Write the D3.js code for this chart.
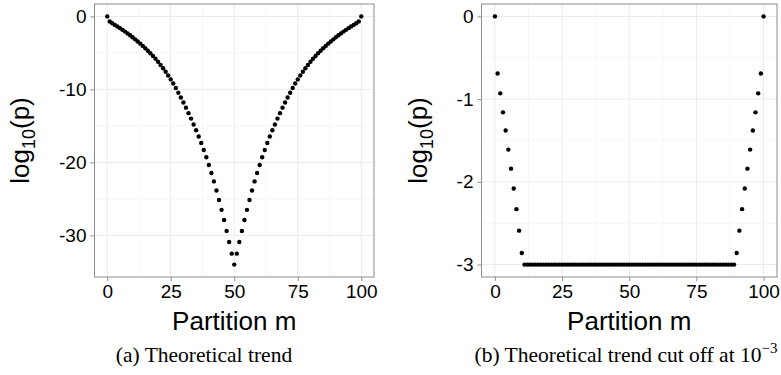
<!DOCTYPE html>
<html>
<head>
<meta charset="utf-8">
<script src="https://cdn.jsdelivr.net/npm/d3@7/dist/d3.min.js"></script>
<style>
  body { margin: 0; background: #fff; }
  svg text { font-family: "Liberation Sans", Arial, sans-serif; fill: #000; }
  svg text.caption { font-family: "Liberation Serif", "Times New Roman", serif; }
</style>
</head>
<body>
<script>
// x is the partition index m (0..100), values are log10(p)
var xTicks = [0, 25, 50, 75, 100];
var xMinor = [12.5, 37.5, 62.5, 87.5];

var trendTicks = [0, -10, -20, -30];
var trendMinor = [-5, -15, -25];
var trendValues = [
  0, -0.69, -0.93, -1.16, -1.38, -1.61, -1.84, -2.08, -2.33, -2.59,
  -2.86, -3.14, -3.43, -3.73, -4.04, -4.36, -4.70, -5.05, -5.42, -5.81,
  -6.22, -6.65, -7.10, -7.58, -8.09, -8.63, -9.20, -9.81, -10.46, -11.10,
  -11.80, -12.50, -13.25, -14.00, -14.80, -15.60, -16.45, -17.35, -18.30, -19.30,
  -20.35, -21.45, -22.60, -23.85, -25.15, -26.50, -27.90, -29.40, -30.90, -32.50,
  -34.00,
  -32.50, -30.90, -29.40, -27.90, -26.50, -25.15, -23.85, -22.60, -21.45, -20.35,
  -19.30, -18.30, -17.35, -16.45, -15.60, -14.80, -14.00, -13.25, -12.50, -11.80,
  -11.10, -10.46, -9.81, -9.20, -8.63, -8.09, -7.58, -7.10, -6.65, -6.22,
  -5.81, -5.42, -5.05, -4.70, -4.36, -4.04, -3.73, -3.43, -3.14, -2.86,
  -2.59, -2.33, -2.08, -1.84, -1.61, -1.38, -1.16, -0.93, -0.69, 0
];

var cutTicks = [0, -1, -2, -3];
var cutMinor = [-0.5, -1.5, -2.5];
var cutValues = [
  0, -0.69, -0.93, -1.16, -1.38, -1.61, -1.84, -2.08, -2.33, -2.59,
  -2.86, -3, -3, -3, -3, -3, -3, -3, -3, -3,
  -3, -3, -3, -3, -3, -3, -3, -3, -3, -3,
  -3, -3, -3, -3, -3, -3, -3, -3, -3, -3,
  -3, -3, -3, -3, -3, -3, -3, -3, -3, -3,
  -3,
  -3, -3, -3, -3, -3, -3, -3, -3, -3, -3,
  -3, -3, -3, -3, -3, -3, -3, -3, -3, -3,
  -3, -3, -3, -3, -3, -3, -3, -3, -3, -3,
  -3, -3, -3, -3, -3, -3, -3, -3, -3, -2.86,
  -2.59, -2.33, -2.08, -1.84, -1.61, -1.38, -1.16, -0.93, -0.69, 0
];

var svg = d3.select("body")
    .append("svg")
    .attr("width", 781)
    .attr("height", 375);

function drawPanel(values, yTicks, yMinor, yDomain, left, right, titleX, caption) {
    var top = 4, bottom = 277;
    var x = d3.scaleLinear().domain([-5, 105]).range([left, right]);
    var y = d3.scaleLinear().domain(yDomain).range([bottom, top]);
    var g = svg.append("g");

    // minor grid
    g.selectAll(".vminor").data(xMinor).enter().append("line")
        .attr("x1", function(d) { return x(d); }).attr("x2", function(d) { return x(d); })
        .attr("y1", top).attr("y2", bottom)
        .style("stroke", "#f5f5f5").style("stroke-width", 0.8);
    g.selectAll(".hminor").data(yMinor).enter().append("line")
        .attr("y1", function(d) { return y(d); }).attr("y2", function(d) { return y(d); })
        .attr("x1", left).attr("x2", right)
        .style("stroke", "#f5f5f5").style("stroke-width", 0.8);
    // major grid
    g.selectAll(".vmajor").data(xTicks).enter().append("line")
        .attr("x1", function(d) { return x(d); }).attr("x2", function(d) { return x(d); })
        .attr("y1", top).attr("y2", bottom)
        .style("stroke", "#ebebeb").style("stroke-width", 1);
    g.selectAll(".hmajor").data(yTicks).enter().append("line")
        .attr("y1", function(d) { return y(d); }).attr("y2", function(d) { return y(d); })
        .attr("x1", left).attr("x2", right)
        .style("stroke", "#ebebeb").style("stroke-width", 1);

    // panel border
    g.append("rect")
        .attr("x", left).attr("y", top)
        .attr("width", right - left).attr("height", bottom - top)
        .style("fill", "none").style("stroke", "#8c8c8c").style("stroke-width", 1);

    // axes
    var xAxis = g.append("g")
        .attr("transform", "translate(0," + bottom + ")")
        .call(d3.axisBottom(x).tickValues(xTicks).tickSize(4).tickPadding(4));
    var yAxis = g.append("g")
        .attr("transform", "translate(" + left + ",0)")
        .call(d3.axisLeft(y).tickValues(yTicks).tickSize(4).tickPadding(4)
            .tickFormat(function(d) { return d === 0 ? "0" : "-" + Math.abs(d); }));
    [xAxis, yAxis].forEach(function(a) {
        a.select(".domain").remove();
        a.selectAll("line").style("stroke", "#8c8c8c");
        a.selectAll("text").style("font-size", "19px").style("font-family", "Liberation Sans, Arial, sans-serif").style("fill", "#000");
    });

    // points
    g.selectAll("circle")
        .data(values)
        .enter()
        .append("circle")
        .attr("cx", function(d, i) { return x(i); })
        .attr("cy", function(d) { return y(d); })
        .attr("r", 2.2)
        .style("fill", "#000");

    // axis titles
    g.append("text")
        .attr("x", x(50)).attr("y", 330)
        .attr("text-anchor", "middle")
        .style("font-size", "26px")
        .text("Partition m");

    var yt = g.append("text")
        .attr("transform", "translate(" + titleX + "," + y(yDomain[0] + (yDomain[1] - yDomain[0]) / 2 ) + ") rotate(-90)")
        .attr("text-anchor", "middle")
        .style("font-size", "26px");
    yt.append("tspan").text("log");
    yt.append("tspan").attr("dy", 6).style("font-size", "18px").text("10");
    yt.append("tspan").attr("dy", -6).text("(p)");

    // caption
    var c = g.append("text")
        .attr("class", "caption")
        .attr("x", caption.x).attr("y", 362)
        .attr("text-anchor", "middle")
        .style("font-size", "21.5px");
    c.append("tspan").text(caption.text);
    if (caption.sup) {
        c.append("tspan").attr("dy", -9).style("font-size", "15px").text(caption.sup);
    }
}

drawPanel(trendValues, trendTicks, trendMinor, [-35.7, 1.7], 94.5, 374, 29,
    { x: 204, text: "(a) Theoretical trend" });
drawPanel(cutValues, cutTicks, cutMinor, [-3.15, 0.15], 481.5, 777, 427,
    { x: 626, text: "(b) Theoretical trend cut off at 10", sup: "\u22123" });
</script>
</body>
</html>
